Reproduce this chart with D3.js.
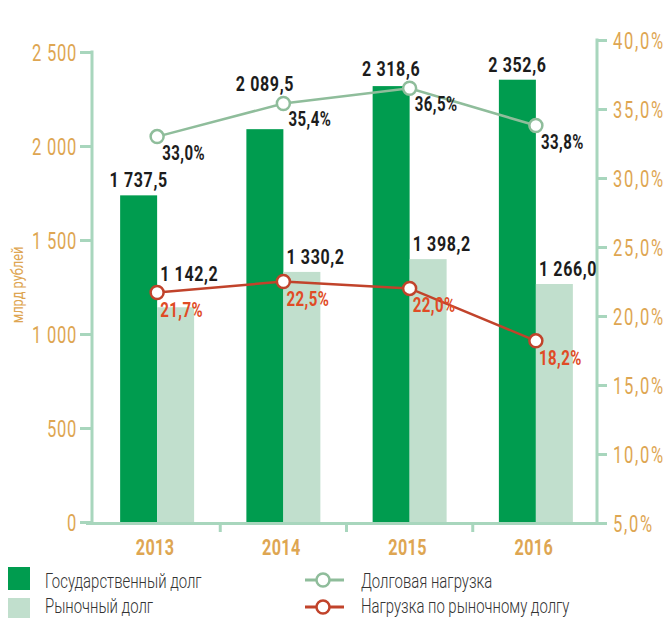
<!DOCTYPE html>
<html><head><meta charset="utf-8">
<script src="https://cdn.jsdelivr.net/npm/d3@7"></script>
<style>
body{margin:0;background:#fff;}
svg text{font-family:Roboto,"Noto Sans",sans-serif;}
</style></head>
<body><svg id="c" width="667" height="618"></svg>
<script>
const years = ["2013","2014","2015","2016"];
const govDebt = [1737.5, 2089.5, 2318.6, 2352.6];
const marketDebt = [1142.2, 1330.2, 1398.2, 1266.0];
const debtLoad = [33.0, 35.4, 36.5, 33.8];
const marketLoad = [21.7, 22.5, 22.0, 18.2];
const leftTicks = [0, 500, 1000, 1500, 2000, 2500];
const rightTicks = [5, 10, 15, 20, 25, 30, 35, 40];
const seriesNames = ["Государственный долг","Рыночный долг","Долговая нагрузка","Нагрузка по рыночному долгу"];
const yAxisTitle = "млрд рублей";

const C = {dark:"#009c4f", light:"#c1dfcd", axis:"#a8d6bd", tick:"#dea652",
  gline:"#8fbd9b", rline:"#c1432b", rtext:"#e04b25", text:"#1c1c1c", legend:"#333"};

const fmtNum = v => { const s = v.toFixed(1).split("."); return s[0].replace(/\B(?=(\d{3})+(?!\d))/g," ")+","+s[1]; };
const fmtPct = v => v.toFixed(1).replace(".",",")+"%";

const svg = d3.select("#c");
// condensed text helper
function txt(parent, x, y, s, o){
  return parent.append("text")
    .attr("transform",`translate(${x},${y})${o.rot?` rotate(${o.rot})`:""} scale(${o.sx||1},1)`)
    .attr("text-anchor",o.anchor||"start").attr("font-size",o.size)
    .attr("font-weight",o.weight||"normal").attr("fill",o.fill)
    .attr("letter-spacing",o.ls||0).text(s);
}

const x = d3.scaleBand().domain(years).range([94,599]).paddingInner(0.414).paddingOuter(0.207);
const xs = d3.scaleBand().domain(["gov","mkt"]).range([0,x.bandwidth()]);
const yL = d3.scaleLinear().domain([0,2500]).range([522,52]);
const yR = d3.scaleLinear().domain([5,40]).range([523,40]);
const cx = d => x(d)+x.bandwidth()/2;

// bars
const g = svg.append("g");
years.forEach((yr,i)=>{
  g.append("rect").attr("x",x(yr)+xs("gov")).attr("width",xs.bandwidth())
    .attr("y",yL(govDebt[i])).attr("height",yL(0)-yL(govDebt[i])).attr("fill",C.dark);
  g.append("rect").attr("x",x(yr)+xs("mkt")).attr("width",xs.bandwidth())
    .attr("y",yL(marketDebt[i])).attr("height",yL(0)-yL(marketDebt[i])).attr("fill",C.light);
});

// axes
const TSX = 0.72;
const axL = svg.append("g").attr("transform","translate(92,0)")
  .call(d3.axisLeft(yL).tickValues(leftTicks).tickSize(12).tickFormat(d=>fmtNum(d).replace(/,0$/,"")));
axL.select(".domain").remove();
axL.selectAll("line").attr("stroke",C.axis).attr("stroke-width",3);
axL.selectAll("text").attr("fill",C.tick).attr("font-size",23).attr("letter-spacing",1)
  .attr("x",-15/TSX).attr("dy","0.36em").attr("transform",`scale(${TSX},1)`);
svg.append("line").attr("x1",92).attr("x2",92).attr("y1",yL(2500)-1.5).attr("y2",524)
  .attr("stroke",C.axis).attr("stroke-width",3);

const axR = svg.append("g").attr("transform","translate(597,0)")
  .call(d3.axisRight(yR).tickValues(rightTicks).tickSize(10).tickFormat(fmtPct));
axR.select(".domain").remove();
axR.selectAll("line").attr("stroke",C.axis).attr("stroke-width",3);
axR.selectAll("text").attr("fill",C.tick).attr("font-size",23).attr("letter-spacing",2.4)
  .attr("x",16/TSX).attr("dy","0.36em").attr("transform",`scale(${TSX},1)`);
svg.append("line").attr("x1",597).attr("x2",597).attr("y1",yR(40)-1.5).attr("y2",524)
  .attr("stroke",C.axis).attr("stroke-width",3);

// bottom axis
svg.append("line").attr("x1",86).attr("x2",606).attr("y1",523.5).attr("y2",523.5)
  .attr("stroke",C.axis).attr("stroke-width",3);
const stepPad = x.step()*x.paddingInner()/2;
years.slice(0,-1).forEach(yr=>{
  const bx = x(yr)+x.bandwidth()+stepPad;
  svg.append("line").attr("x1",bx).attr("x2",bx).attr("y1",523).attr("y2",532)
    .attr("stroke",C.axis).attr("stroke-width",3);
});
years.forEach(yr=>{
  txt(svg, cx(yr)-2, 555, yr, {anchor:"middle", size:22.5, weight:"bold", fill:C.tick, sx:0.72, ls:0.6});
});

// y title
txt(svg, 23, 285, yAxisTitle, {rot:-90, anchor:"middle", size:16, fill:C.tick, sx:0.8});

// lines
const line = (arr,sc)=>d3.line().x((d,i)=>cx(years[i])).y(d=>sc(d))(arr);
svg.append("path").attr("d",line(debtLoad,yR)).attr("fill","none").attr("stroke",C.gline).attr("stroke-width",2.5);
svg.append("path").attr("d",line(marketLoad,yR)).attr("fill","none").attr("stroke",C.rline).attr("stroke-width",2.5);
years.forEach((yr,i)=>{
  svg.append("circle").attr("cx",cx(yr)).attr("cy",yR(debtLoad[i])).attr("r",6.5)
    .attr("fill","#fff").attr("stroke",C.gline).attr("stroke-width",2.5);
  svg.append("circle").attr("cx",cx(yr)).attr("cy",yR(marketLoad[i])).attr("r",6.5)
    .attr("fill","#fff").attr("stroke",C.rline).attr("stroke-width",2.5);
});

// value labels: above the bar, lifted above a marker if it would collide with it
const labelY = (barTop, markerY) => {
  const y0 = barTop - 8;
  return (y0 >= markerY - 12 && y0 <= markerY + 30) ? markerY - 12 : y0;
};
const big = {size:20, weight:"bold", fill:C.text, sx:0.8, ls:0.8};
years.forEach((yr,i)=>{
  const gx = x(yr)+xs("gov")+xs.bandwidth()/2;
  txt(svg, gx, labelY(yL(govDebt[i]), yR(debtLoad[i])), fmtNum(govDebt[i]), {...big, anchor:"middle"});
  const mx = x(yr)+xs("mkt")+3;
  txt(svg, mx, labelY(yL(marketDebt[i]), yR(marketLoad[i])), fmtNum(marketDebt[i]), big);
  txt(svg, cx(yr)+5, yR(debtLoad[i])+23, fmtPct(debtLoad[i]), {size:19.5, weight:"bold", fill:C.text, sx:0.77, ls:0.6});
  txt(svg, cx(yr)+3, yR(marketLoad[i])+24, fmtPct(marketLoad[i]), {size:19.5, weight:"bold", fill:C.rtext, sx:0.77, ls:0.6});
});

// legend
const lg = svg.append("g");
const lt = {size:21, weight:300, fill:C.legend, sx:0.71};
lg.append("rect").attr("x",8).attr("y",567).attr("width",22).attr("height",23).attr("fill",C.dark);
lg.append("rect").attr("x",8).attr("y",598).attr("width",22).attr("height",23).attr("fill",C.light);
txt(lg, 45, 588, seriesNames[0], lt);
txt(lg, 45, 613, seriesNames[1], lt);
[[C.gline,580,588,seriesNames[2]],[C.rline,607,613,seriesNames[3]]].forEach(([col,ly,ty,t])=>{
  lg.append("line").attr("x1",305).attr("x2",344).attr("y1",ly).attr("y2",ly).attr("stroke",col).attr("stroke-width",3);
  lg.append("circle").attr("cx",323).attr("cy",ly).attr("r",6.5).attr("fill","#fff").attr("stroke",col).attr("stroke-width",2.5);
  txt(lg, 361, ty, t, lt);
});
</script></body></html>
